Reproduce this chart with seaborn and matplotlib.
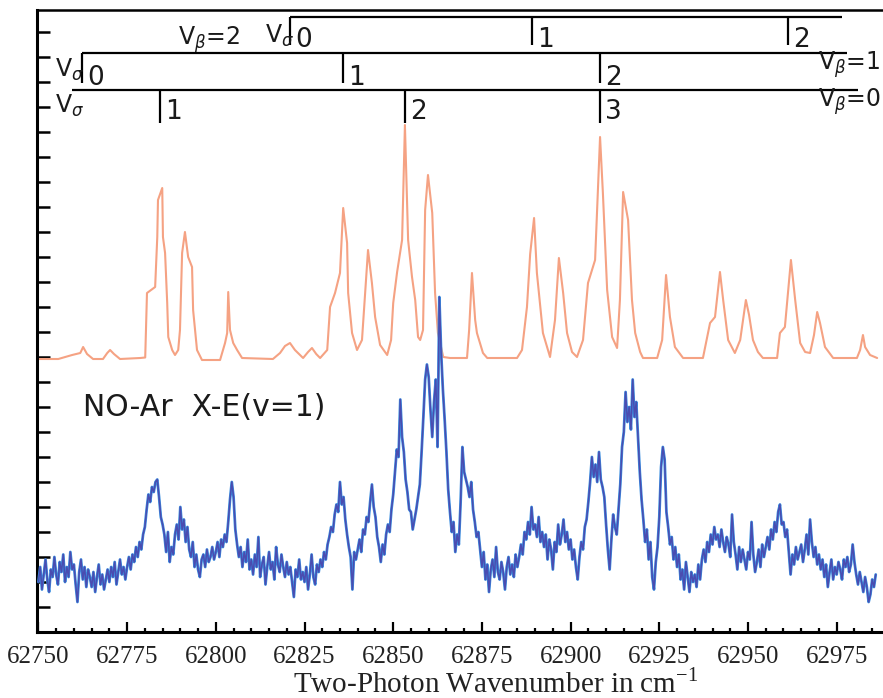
import numpy as np
import pandas as pd
import matplotlib
matplotlib.use("Agg")
import matplotlib.pyplot as plt
import seaborn as sns

# Simulated NO-Ar X-E(v=1) band contour (wavenumber in cm-1, intensity in axis units)
sim_wavenumber = [
    62749.6, 62755.6, 62759.5, 62761.8, 62762.6, 62763.7, 62765.4, 62768.2, 62769.4, 62770.2,
    62771.3, 62773.0, 62778.7, 62780.1, 62780.6, 62782.9, 62783.5, 62783.7, 62784.9, 62785.1,
    62785.7, 62786.3, 62786.6, 62787.7, 62788.5, 62789.4, 62789.9, 62790.5, 62791.3, 62792.2,
    62793.3, 62793.6, 62794.7, 62796.1, 62801.2, 62802.6, 62803.2, 62803.5, 62804.0, 62804.9,
    62806.0, 62807.4, 62816.1,
    62818.1, 62819.5, 62820.9, 62822.3, 62824.6, 62826.0, 62827.1, 62828.3, 62829.4, 62831.4,
    62832.2, 62833.6, 62835.0, 62835.9, 62837.0, 62837.3, 62838.4, 62839.8, 62841.2, 62842.1,
    62842.9, 62844.0, 62844.9, 62846.3, 62848.3, 62849.4, 62850.0, 62851.1, 62852.5, 62853.3,
    62854.2, 62855.3, 62856.2, 62857.0, 62857.6, 62858.4, 62859.0, 62859.8, 62861.0, 62861.8,
    62862.6, 62864.1, 62866.0, 62870.8, 62871.4, 62872.2, 62873.1, 62873.6, 62875.3, 62876.5,
    62884.9, 62886.3, 62887.7, 62888.6, 62889.7, 62890.5, 62892.2, 62894.2, 62895.6, 62896.7,
    62897.9, 62899.0, 62900.4, 62901.8, 62903.5, 62904.9, 62906.9, 62908.3, 62909.1, 62910.3,
    62911.7, 62913.1, 62913.9, 62914.8, 62916.2, 62917.3, 62918.2, 62919.6, 62920.4, 62924.4,
    62925.8, 62926.9, 62928.0, 62929.4, 62931.7, 62937.3, 62939.3, 62940.7, 62942.1, 62943.0,
    62944.4, 62946.3, 62947.8, 62949.4, 62950.3, 62951.4, 62952.8, 62954.2, 62958.2, 62959.0,
    62960.4, 62962.1, 62963.3, 62964.7, 62966.1, 62967.5, 62968.6, 62969.5, 62970.3, 62971.7,
    62974.0, 62980.7, 62981.6, 62982.4, 62983.0, 62984.4, 62986.4,
]
sim_intensity = [
    10.92, 10.92, 11.08, 11.16, 11.40, 11.12, 10.92, 10.92, 11.16, 11.28,
    11.12, 10.92, 10.96, 10.98, 13.56, 13.80, 15.80, 17.28, 17.76, 15.80,
    15.16, 13.16, 11.80, 11.28, 11.08, 11.28, 12.08, 15.16, 16.00, 15.00,
    14.60, 12.88, 11.28, 10.88, 10.88, 11.56, 11.96, 13.60, 12.08, 11.56,
    11.28, 10.96, 10.92,
    11.16, 11.44, 11.56, 11.28, 10.96, 11.20, 11.36, 11.12, 10.96, 11.28,
    13.00, 13.56, 14.36, 16.96, 15.56, 13.56, 11.96, 11.28, 11.68, 13.56,
    15.28, 13.96, 12.60, 11.48, 11.08, 11.68, 13.16, 14.40, 15.68, 20.28,
    15.68, 14.20, 13.28, 11.80, 11.68, 12.08, 16.88, 18.28, 16.76, 13.56,
    11.96, 11.00, 10.96, 10.96, 12.08, 14.36, 12.48, 11.96, 11.16, 10.96,
    10.96, 11.28, 13.00, 15.12, 16.56, 14.36, 11.96, 11.00, 12.48, 14.96,
    13.56, 11.96, 11.20, 11.00, 11.68, 13.96, 14.88, 19.80, 17.56, 13.68,
    11.80, 11.36, 13.28, 17.60, 16.48, 13.28, 11.96, 11.20, 10.96, 10.96,
    11.68, 14.28, 12.60, 11.40, 10.96, 10.96, 12.36, 12.60, 14.40, 13.28,
    11.68, 11.16, 11.68, 13.28, 12.68, 11.68, 11.20, 10.96, 10.96, 11.96,
    12.20, 14.88, 13.28, 11.56, 11.20, 11.16, 11.88, 12.80, 12.36, 11.40,
    10.96, 10.96, 11.28, 11.88, 11.40, 11.08, 10.96,
]

# Measured two-photon spectrum, sampled every 0.5 cm-1 from 62750 cm-1
exp_start = 62750.0
exp_step = 0.5
exp_intensity = [
    2.0, 2.6, 1.7, 2.3, 2.9, 2.1, 1.6, 2.5, 2.2, 3.0,
    2.3, 1.9, 2.8, 2.4, 3.1, 2.0, 2.6, 2.2, 3.2, 2.5,
    2.7, 1.9, 1.2, 2.4, 2.9, 2.1, 2.6, 1.8, 2.5, 2.2,
    1.8, 2.4, 1.6, 2.2, 2.7, 1.9, 2.3, 1.7, 2.1, 2.5,
    2.0, 2.6, 2.2, 2.8, 1.9, 2.4, 2.9, 2.3, 2.6, 2.1,
    2.6, 3.0, 2.5, 3.1, 2.8, 3.4, 3.0, 3.6, 3.3, 3.9,
    4.2, 4.9, 5.5, 5.2, 5.8, 5.6, 6.0, 6.1, 5.4, 4.6,
    4.3, 3.9, 3.2, 4.0, 2.8, 3.4, 3.1, 3.9, 4.3, 3.7,
    5.0, 4.1, 4.5, 3.6, 4.2, 3.3, 3.0, 3.6, 2.6, 3.1,
    2.5, 2.2, 2.9, 3.1, 2.6, 3.3, 2.8, 3.0, 3.4, 2.9,
    3.2, 3.6, 3.0, 3.7, 3.4, 3.9, 3.6, 4.4, 5.3, 6.0,
    5.4, 4.1, 3.5, 3.0, 3.4, 2.6, 3.2, 2.8, 3.7, 2.5,
    2.9, 2.3, 3.1, 2.6, 3.8, 2.2, 2.7, 3.0, 1.9, 2.6,
    3.2, 2.5, 2.8, 2.1, 3.4, 2.7, 2.4, 3.1, 2.6, 2.2,
    2.8, 2.3, 2.6, 2.0, 1.4, 2.5, 2.2, 2.9, 2.1, 2.4,
    2.0, 2.6, 1.7, 2.3, 3.1, 2.2, 1.9, 2.7, 2.4, 2.9,
    2.6, 3.2, 2.9, 3.5, 3.8, 4.2, 4.0, 4.7, 5.1, 4.8,
    6.0, 5.1, 5.4, 4.5, 3.9, 3.4, 3.0, 1.7, 3.2, 2.9,
    3.3, 3.7, 3.2, 4.1, 3.9, 4.6, 4.4, 5.2, 5.9, 5.0,
    4.6, 3.8, 3.4, 2.8, 3.5, 3.1, 3.9, 4.3, 4.0, 4.9,
    5.5, 6.4, 7.3, 7.0, 9.3, 7.8, 7.2, 6.1, 5.6, 4.9,
    4.8, 4.1, 4.5, 4.9, 5.4, 5.9, 7.2, 8.6, 10.1, 10.7,
    10.2, 8.9, 7.8, 9.2, 10.1, 7.4, 13.4, 11.2, 9.7, 8.5,
    7.2, 5.7, 4.8, 4.0, 4.4, 3.2, 3.9, 3.5, 5.2, 7.4,
    6.4, 6.1, 5.8, 5.4, 6.0, 4.9, 4.4, 3.8, 4.0, 3.3,
    2.6, 3.2, 2.1, 2.7, 1.6, 2.5, 2.9, 2.2, 3.4, 2.4,
    2.1, 2.8, 2.4, 1.7, 2.6, 3.0, 2.3, 2.7, 2.2, 3.1,
    2.6, 3.0, 3.5, 3.1, 4.0, 3.7, 4.4, 3.9, 5.0, 4.1,
    4.3, 3.8, 4.6, 3.6, 4.0, 3.4, 3.9, 2.9, 3.7, 3.3,
    2.5, 3.6, 3.2, 4.3, 3.5, 3.9, 4.5, 3.6, 4.0, 3.3,
    3.7, 2.9, 3.3, 2.6, 2.1, 3.0, 3.6, 3.3, 4.2, 4.5,
    5.2, 6.0, 7.0, 6.2, 6.7, 6.0, 7.2, 6.1, 5.8, 5.4,
    4.3, 3.3, 2.5, 3.7, 4.7, 4.2, 3.9, 4.9, 5.9, 7.4,
    8.0, 9.6, 8.4, 9.0, 8.1, 10.1, 8.6, 9.2, 7.8, 6.4,
    5.3, 4.5, 3.6, 4.1, 2.9, 3.6, 2.2, 1.7, 2.8, 3.4,
    4.6, 6.6, 7.4, 6.9, 4.8, 4.2, 3.5, 3.8, 2.9, 3.4,
    2.6, 3.1, 2.1, 2.5, 1.7, 2.8, 2.2, 1.6, 2.4, 2.0,
    2.3, 1.8, 2.7, 2.1, 2.9, 3.3, 2.8, 3.6, 3.2, 3.9,
    3.5, 4.2, 3.7, 3.9, 3.4, 4.1, 3.6, 3.2, 3.8, 3.5,
    3.0, 4.7, 3.6, 3.1, 2.5, 3.4, 2.8, 3.3, 2.9, 2.5,
    3.2, 2.9, 4.4, 3.1, 2.4, 2.8, 3.3, 2.6, 3.5, 3.0,
    3.4, 3.8, 3.3, 4.1, 3.7, 4.4, 4.0, 4.8, 5.1, 4.3,
    4.4, 3.8, 4.1, 3.2, 2.3, 3.1, 2.7, 3.4, 2.9, 3.2,
    3.5, 2.8, 3.3, 3.9, 3.1, 4.5, 3.6, 3.0, 3.4, 2.7,
    3.1, 2.5, 2.9, 2.2, 2.7, 1.8, 2.4, 2.9, 2.1, 2.6,
    2.3, 2.8, 2.5, 2.1, 2.9, 2.6, 3.0, 2.4, 2.7, 3.5,
    2.8, 2.3, 1.9, 2.4, 2.0, 1.6, 2.2, 1.8, 1.2, 1.5,
    2.1, 1.8, 2.3,
]

# Vibrational progressions (v_sigma assignments) for v_beta = 0, 1, 2
prog_b0_pos = [62784.3, 62853.3, 62908.3]
prog_b0_lab = ["1", "2", "3"]
prog_b1_pos = [62762.3, 62835.9, 62908.3]
prog_b1_lab = ["0", "1", "2"]
prog_b2_pos = [62820.9, 62889.1, 62961.3]
prog_b2_lab = ["0", "1", "2"]

x_ticks = [62750, 62775, 62800, 62825, 62850, 62875, 62900, 62925, 62950, 62975]

sns.set_theme(style="white")
plt.rcParams["font.family"] = ["DejaVu Sans"]

sim = pd.DataFrame({"wavenumber": sim_wavenumber, "intensity": sim_intensity})
exp_wn = exp_start + exp_step * np.arange(len(exp_intensity))
exp = pd.DataFrame({"wavenumber": exp_wn, "intensity": exp_intensity})

fig = plt.figure(figsize=(8.83, 6.98), dpi=100)
ax = fig.add_axes([37 / 883, 66 / 698, 846 / 883, 622 / 698])

sns.lineplot(data=sim, x="wavenumber", y="intensity", ax=ax, color="#f5a283",
             linewidth=1.5, sort=False, estimator=None, zorder=2)
sns.lineplot(data=exp, x="wavenumber", y="intensity", ax=ax, color="#3a8ee0",
             linewidth=2.0, sort=False, estimator=None, zorder=3)
sns.lineplot(data=exp, x="wavenumber", y="intensity", ax=ax, color="#4a4cb0",
             linewidth=1.1, sort=False, estimator=None, zorder=4)

ax.set_xlim(62749.6, 62988.05)
ax.set_ylim(0, 24.88)
ax.set_xlabel("")
ax.set_ylabel("")

ax.set_xticks(x_ticks)
ax.set_xticklabels([str(t) for t in x_ticks], fontfamily="Liberation Serif",
                   fontsize=18, color="#222222")
ax.set_xticks(np.arange(62755, 62988, 5), minor=True)
ax.set_yticks(np.arange(1, 25))
ax.set_yticklabels([])
ax.tick_params(axis="x", which="major", direction="in", length=7, width=1.6,
               color="black", pad=10, bottom=True)
ax.tick_params(axis="x", which="minor", direction="in", length=3.2, width=1.6,
               color="black", bottom=True)
ax.tick_params(axis="y", which="major", direction="in", length=9.5, width=1.8,
               color="black", left=True)

for side in ["left", "bottom", "top"]:
    ax.spines[side].set_visible(True)
    ax.spines[side].set_color("black")
    ax.spines[side].set_linewidth(2.2)
ax.spines["top"].set_linewidth(1.8)
ax.spines["right"].set_visible(False)

fig.text(496 / 883, 1 - 683 / 698,
         r"Two-Photon Wavenumber in cm$^{\mathregular{-1}}$",
         fontfamily="Liberation Serif", fontsize=21, color="#222222",
         ha="center", va="center")

ax.text(62762.6, 8.96, "NO-Ar  X-E(v=1)", fontsize=21.5, color="#1a1a1a",
        ha="left", va="center")

# Progression combs
line_kw = dict(color="black", linewidth=1.6, solid_capstyle="butt", zorder=5)
num_kw = dict(fontsize=19, color="#1a1a1a", ha="left", va="baseline", zorder=6)
v_kw = dict(fontsize=17, color="#1a1a1a", ha="left", va="baseline", zorder=6)


def draw_comb(x0, x1, y_bar, y_tick, positions, labels, y_lab, dx):
    ax.plot([x0, x1], [y_bar, y_bar], **line_kw)
    for p, lab in zip(positions, labels):
        ax.plot([p, p], [y_bar, y_tick], **line_kw)
        ax.text(p + dx, y_lab, lab, **num_kw)


draw_comb(62759.5, 62981.0, 21.68, 20.36, prog_b0_pos, prog_b0_lab, 20.52, 1.4)
draw_comb(62762.3, 62977.9, 23.16, 21.96, prog_b1_pos, prog_b1_lab, 21.88, 1.4)
draw_comb(62820.9, 62976.5, 24.60, 23.48, prog_b2_pos, prog_b2_lab, 23.40, 1.4)

ax.text(62754.6, 20.76, r"V$_\sigma$", **v_kw)
ax.text(62754.6, 22.20, r"V$_\sigma$", **v_kw)
ax.text(62813.9, 23.56, r"V$_\sigma$", **v_kw)
ax.text(62789.4, 23.48, r"V$_\beta$=2", **v_kw)
ax.text(62969.7, 22.48, r"V$_\beta$=1", **v_kw)
ax.text(62969.7, 21.00, r"V$_\beta$=0", **v_kw)

fig.savefig("out.png", dpi=100, facecolor="white")
